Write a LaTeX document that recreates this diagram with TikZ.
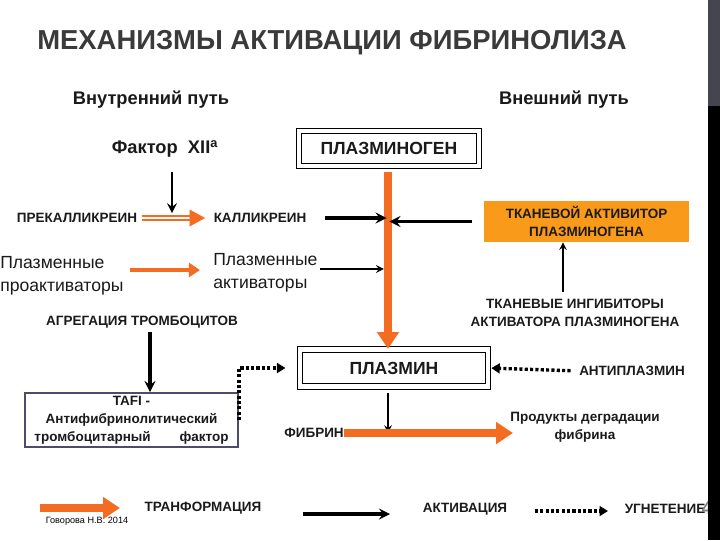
\documentclass[tikz,border=0pt]{standalone}
\usepackage{fontspec}
\setmainfont{Liberation Sans}
\usetikzlibrary{arrows.meta}
\definecolor{arrorange}{HTML}{F36C21}
\definecolor{tpaorange}{HTML}{FA9A1A}
\definecolor{titlegray}{HTML}{3A3A3A}
\definecolor{slate}{HTML}{4D4D6B}
\definecolor{bargray}{HTML}{45454F}
\definecolor{txtdark}{HTML}{1A1A1A}

\begin{document}
\begin{tikzpicture}[x=0.025cm,y=-0.025cm,
  ttl/.style={inner sep=0pt,font=\bfseries\fontsize{19.5}{22}\selectfont,text=titlegray},
  hdr/.style={inner sep=0pt,font=\bfseries\fontsize{13}{15}\selectfont,text=txtdark},
  lbl/.style={inner sep=0pt,align=center,text=txtdark,
    font=\bfseries\fontsize{9.6}{12.8}\selectfont},
  plain/.style={inner sep=0pt,align=left,text=txtdark,
    font=\fontsize{12.5}{16.4}\selectfont},
  dblbox/.style={draw,double=white,double distance=3.5pt,line width=0.7pt,
    text=txtdark,font=\bfseries\fontsize{12.5}{15}\selectfont},
  arr/.style={->,>=stealth,line width=2.4pt},
  thinarr/.style={->,>=stealth,line width=1.4pt},
  orarr/.style={arrorange,line width=5.7pt,-{Triangle[length=12pt,width=15pt]}},
  orsmall/.style={arrorange,line width=3.5pt,-{Triangle[length=8pt,width=10pt]}},
  dotarr/.style={line width=2.4pt,dash pattern=on 2.2pt off 1.6pt,
    -{Triangle[length=6pt,width=7pt]}}]

  \useasboundingbox (0,0) rectangle (720,540);

  % headings
  \node[ttl] (title) at (332,43) {МЕХАНИЗМЫ АКТИВАЦИИ ФИБРИНОЛИЗА};
  \node[hdr] (inner) at (151,100) {Внутренний путь};
  \node[hdr] (outer) at (564,100) {Внешний путь};

  % upper part
  \node[hdr] (f12) at (165,149) {Фактор\ \ XII\textsuperscript{a}};
  \node[dblbox,minimum width=4.5cm,minimum height=0.875cm] (plg) at (389,148.5) {ПЛАЗМИНОГЕН};
  \node[lbl] (prek) at (77,218) {ПРЕКАЛЛИКРЕИН};
  \node[lbl] (kall) at (260,218) {КАЛЛИКРЕИН};
  \node[lbl,fill=tpaorange,minimum width=5.125cm,minimum height=1.025cm] (tpa)
    at (586.5,221.5) {ТКАНЕВОЙ АКТИВИТОР\\ПЛАЗМИНОГЕНА};
  \node[plain,anchor=west] (plpro) at (0,276) {Плазменные\\проактиваторы};
  \node[plain,anchor=west] (plact) at (213,273) {Плазменные\\активаторы};
  \node[lbl] (tinh) at (575,313) {ТКАНЕВЫЕ ИНГИБИТОРЫ\\АКТИВАТОРА ПЛАЗМИНОГЕНА};
  \node[lbl] (agr) at (142,322) {АГРЕГАЦИЯ ТРОМБОЦИТОВ};

  % lower part
  \node[dblbox,minimum width=4.7cm,minimum height=0.93cm] (plm) at (394,368) {ПЛАЗМИН};
  \node[lbl] (anti) at (632,371) {АНТИПЛАЗМИН};
  \node[lbl,draw=slate,line width=1.4pt,minimum width=5.325cm,minimum height=1.35cm] (tafi)
    at (131.5,420) {TAFI -\\Антифибринолитический\\\makebox[4.85cm]{тромбоцитарный\hfill фактор}};
  \node[lbl] (fib) at (314,433) {ФИБРИН};
  \node[lbl] (pdf) at (585,427) {Продукты деградации\\фибрина};

  % legend
  \node[lbl] (trf) at (203,508) {ТРАНФОРМАЦИЯ};
  \node[lbl] (act) at (465,509) {АКТИВАЦИЯ};
  \node[lbl] (inh) at (665,509) {УГНЕТЕНИЕ};
  \node[inner sep=0pt,font=\fontsize{6.5}{8}\selectfont] (auth) at (87,521) {Говорова Н.В. 2014};
  \node[inner sep=0pt,font=\bfseries\fontsize{13}{13}\selectfont,text=gray] (pgno) at (712,508) {49};

  \coordinate (ptop) at (388,172);
  \coordinate (f12a) at (172,172);
  \coordinate (kh) at (205,218);
  \coordinate (pa) at (320,269);
  \coordinate (ti) at (563,292);
  \coordinate (ag) at (150,332);
  \coordinate (pd) at (388,393);
  \coordinate (fe) at (513,433);
  \coordinate (l1a) at (40,508);
  \coordinate (l1b) at (120,508);
  \coordinate (l2a) at (303,514);
  \coordinate (l2b) at (390,514);
  \coordinate (l3a) at (535,511);
  \coordinate (l3b) at (608,511);

  % connectors
  \draw[orarr] (ptop) -- (ptop |- plm.north);
  \draw[arrorange,line width=1.1pt,double=white,double distance=2pt,shorten <=3pt]
    (prek.east) -- ([xshift=-8pt]kh);
  \draw[arrorange,line width=0.1pt,-{Triangle[length=11pt,width=12pt]}] ([xshift=-11pt]kh) -- (kh);
  \draw[arr,line width=2pt] (f12a) -- (f12a |- prek.north);
  \draw[arr,shorten <=13pt,shorten >=1pt] (kall.east) -- (kall.east -| ptop);
  \draw[arr,shorten <=8pt,shorten >=1pt] (tpa.west) -- (tpa.west -| ptop);
  \draw[thinarr,shorten >=3pt] (pa) -- (pa -| ptop);
  \draw[orsmall] ([shift={(6,-6)}]plpro.east) -- ([shift={(-13,-3)}]plact.west);
  \draw[thinarr] (ti) -- (ti |- tpa.south);
  \draw[arr] (ag) -- (ag |- tafi.north);
  \draw[dotarr,shorten >=10pt] (tafi.east) |- (plm.west);
  \draw[dotarr,shorten <=6pt,shorten >=2pt] (anti.west) -- (plm.east);
  \draw[thinarr] (pd) -- (pd |- fib);
  \draw[orarr] (fib.east) -- (fe);

  % legend arrows
  \draw[orarr] (l1a) -- (l1b);
  \draw[arr] (l2a) -- (l2b);
  \draw[dotarr] (l3a) -- (l3b);

  % right edge bar
  \fill[bargray] (708,0) rectangle (720,106);
  \fill[black] (708,106) rectangle (720,540);
\end{tikzpicture}
\end{document}
